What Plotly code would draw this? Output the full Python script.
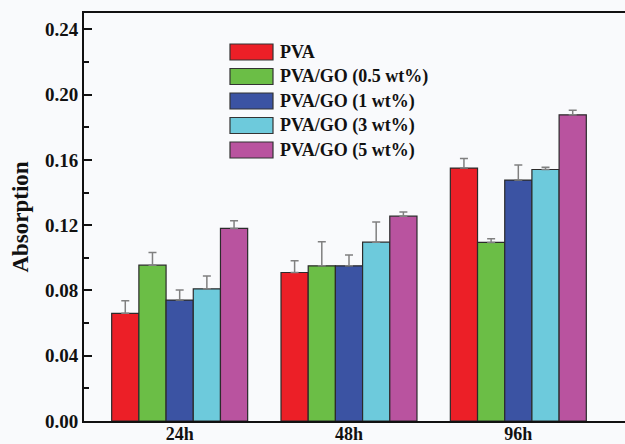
import plotly.graph_objects as go

categories = ["24h", "48h", "96h"]
series_names = ["PVA", "PVA/GO (0.5 wt%)", "PVA/GO (1 wt%)", "PVA/GO (3 wt%)", "PVA/GO (5 wt%)"]
pva = [0.066, 0.091, 0.155]
pva_go_05 = [0.0955, 0.0951, 0.1094]
pva_go_1 = [0.0741, 0.0951, 0.1476]
pva_go_3 = [0.081, 0.1096, 0.1541]
pva_go_5 = [0.118, 0.1255, 0.1876]
err_pva = [0.0077, 0.0072, 0.0059]
err_go_05 = [0.0078, 0.0147, 0.0023]
err_go_1 = [0.0061, 0.0066, 0.0092]
err_go_3 = [0.0078, 0.0124, 0.0014]
err_go_5 = [0.0047, 0.0026, 0.0028]
y_ticks = [0.00, 0.04, 0.08, 0.12, 0.16, 0.20, 0.24]

values = [pva, pva_go_05, pva_go_1, pva_go_3, pva_go_5]
errors = [err_pva, err_go_05, err_go_1, err_go_3, err_go_5]
colors = ["#EC1F27", "#6BBE46", "#3B53A3", "#6DCADC", "#B9539F"]

W, H = 625, 444
ml, mr, mt, mb = 84, 0, 13, 23
pw, ph = W - ml - mr, H - mt - mb

fig = go.Figure()
for name, v, e, c in zip(series_names, values, errors, colors):
    fig.add_trace(go.Bar(
        x=categories, y=v, name=name,
        marker=dict(color=c, line=dict(color="#2b2b2b", width=1.2)),
        error_y=dict(type="data", array=e, arrayminus=[0] * len(e), symmetric=False,
                     color="#808080", thickness=1.5, width=4),
        showlegend=False,
    ))

font_fam = "Liberation Serif, Times New Roman, serif"
bg = "#F9FAFC"

def bold_font(size):
    return dict(family=font_fam, size=size, color="#111111", weight="bold")

# custom legend
shapes = []
annotations = []
row_y = [52, 76.5, 101, 125.5, 150]
for name, c, py in zip(series_names, colors, row_y):
    x0 = (230 - ml) / pw
    x1 = (273 - ml) / pw
    y0 = (H - mb - (py + 8)) / ph
    y1 = (H - mb - (py - 8)) / ph
    shapes.append(dict(type="rect", xref="paper", yref="paper", x0=x0, x1=x1, y0=y0, y1=y1,
                       fillcolor=c, line=dict(color="#333333", width=1.2)))
    annotations.append(dict(xref="paper", yref="paper", x=(278 - ml) / pw, y=(H - mb - py) / ph,
                            text=name, showarrow=False, xanchor="left", yanchor="middle",
                            font=bold_font(18)))

fig.update_layout(
    width=W, height=H,
    margin=dict(l=ml, r=mr, t=mt, b=mb, autoexpand=False),
    paper_bgcolor=bg, plot_bgcolor=bg,
    barmode="group", bargap=0.197, bargroupgap=0,
    shapes=shapes, annotations=annotations,
    font=bold_font(18),
)
fig.update_xaxes(
    type="category", range=[-0.565, 2.63], automargin=False,
    showline=True, linecolor="#111111", linewidth=2, mirror=True,
    ticks="", showgrid=False, zeroline=False,
    tickfont=bold_font(18), ticklabelstandoff=-5,
)
fig.update_yaxes(
    range=[0, 0.25], tickvals=y_ticks, tickformat=".2f", automargin=False,
    showline=True, linecolor="#111111", linewidth=2, mirror=False,
    ticks="inside", ticklen=8, tickwidth=2, tickcolor="#111111",
    minor=dict(dtick=0.02, tick0=0, ticks="inside", ticklen=5, tickwidth=2, tickcolor="#111111"),
    showgrid=False, zeroline=False,
    tickfont=bold_font(19),
    title=dict(text="Absorption", font=bold_font(23), standoff=10),
)

fig.write_html("out.html", config={"displayModeBar": False},
               post_script="document.body.style.margin='0';document.body.style.overflow='hidden';")
